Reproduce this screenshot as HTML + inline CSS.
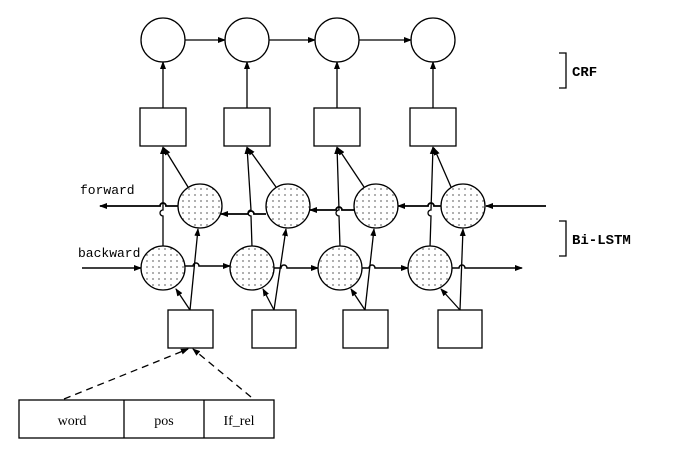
<!DOCTYPE html>
<html><head><meta charset="utf-8"><style>body{margin:0;background:#fff}svg{display:block}</style></head><body>
<svg width="693" height="461" viewBox="0 0 693 461" xmlns="http://www.w3.org/2000/svg">
<defs>
<pattern id="dots" width="6" height="6" patternUnits="userSpaceOnUse"><rect width="6" height="6" fill="#fff"/><circle cx="3" cy="3" r="0.9" fill="#777"/></pattern>
<marker id="a" markerWidth="8" markerHeight="8" refX="7" refY="4" orient="auto" markerUnits="userSpaceOnUse"><path d="M0,1 L8,4 L0,7 z" fill="#000"/></marker>
</defs>
<g stroke="#000" stroke-width="1.3" fill="none">
<circle cx="163" cy="40" r="22" fill="#fff"/>
<circle cx="247" cy="40" r="22" fill="#fff"/>
<circle cx="337" cy="40" r="22" fill="#fff"/>
<circle cx="433" cy="40" r="22" fill="#fff"/>
<line x1="185" y1="40" x2="225" y2="40" marker-end="url(#a)"/>
<line x1="269" y1="40" x2="315" y2="40" marker-end="url(#a)"/>
<line x1="359" y1="40" x2="411" y2="40" marker-end="url(#a)"/>
<line x1="163" y1="108" x2="163" y2="62" marker-end="url(#a)"/>
<line x1="247" y1="108" x2="247" y2="62" marker-end="url(#a)"/>
<line x1="337" y1="108" x2="337" y2="62" marker-end="url(#a)"/>
<line x1="433" y1="108" x2="433" y2="62" marker-end="url(#a)"/>
<rect x="140" y="108" width="46" height="38" fill="#fff"/>
<rect x="224" y="108" width="46" height="38" fill="#fff"/>
<rect x="314" y="108" width="46" height="38" fill="#fff"/>
<rect x="410" y="108" width="46" height="38" fill="#fff"/>
<path d="M163,247 V216 a3,3 0 0 1 0,-6 V147" marker-end="url(#a)"/>
<path d="M252,247 L251,216 a3,3 0 0 1 0,-6 L247,147" marker-end="url(#a)"/>
<path d="M340,247 L339,216 a3,3 0 0 1 0,-6 L337,147" marker-end="url(#a)"/>
<path d="M430,247 L431,216 a3,3 0 0 1 0,-6 L433,147" marker-end="url(#a)"/>
<line x1="188" y1="187" x2="164" y2="148" marker-end="url(#a)"/>
<line x1="276" y1="187" x2="248" y2="148" marker-end="url(#a)"/>
<line x1="364" y1="187" x2="338" y2="148" marker-end="url(#a)"/>
<line x1="451" y1="187" x2="434" y2="148" marker-end="url(#a)"/>
<g stroke-width="1.8">
<line x1="546" y1="206" x2="486" y2="206" marker-end="url(#a)"/>
<path d="M441,206 H434 a3,3 0 0 0 -6,0 H398" marker-end="url(#a)"/>
<path d="M354,210 H342 a3,3 0 0 0 -6,0 H310" marker-end="url(#a)"/>
<path d="M266,214 H254 a3,3 0 0 0 -6,0 H221" marker-end="url(#a)"/>
<path d="M178,206 H166 a3,3 0 0 0 -6,0 H100" marker-end="url(#a)"/>
</g>
<g stroke-width="1.5">
<line x1="82" y1="268" x2="141" y2="268" marker-end="url(#a)"/>
<path d="M185,266 H193 a3,3 0 0 1 6,0 H230" marker-end="url(#a)"/>
<path d="M274,268 H281 a3,3 0 0 1 6,0 H318" marker-end="url(#a)"/>
<path d="M362,268 H369 a3,3 0 0 1 6,0 H408" marker-end="url(#a)"/>
<path d="M452,268 H459 a3,3 0 0 1 6,0 H522" marker-end="url(#a)"/>
</g>
<circle cx="200" cy="206" r="22" fill="url(#dots)"/>
<circle cx="288" cy="206" r="22" fill="url(#dots)"/>
<circle cx="376" cy="206" r="22" fill="url(#dots)"/>
<circle cx="463" cy="206" r="22" fill="url(#dots)"/>
<circle cx="163" cy="268" r="22" fill="url(#dots)"/>
<circle cx="252" cy="268" r="22" fill="url(#dots)"/>
<circle cx="340" cy="268" r="22" fill="url(#dots)"/>
<circle cx="430" cy="268" r="22" fill="url(#dots)"/>
<line x1="190" y1="310" x2="198" y2="229" marker-end="url(#a)"/>
<line x1="190" y1="310" x2="176" y2="289" marker-end="url(#a)"/>
<line x1="274" y1="310" x2="286" y2="229" marker-end="url(#a)"/>
<line x1="274" y1="310" x2="263" y2="289" marker-end="url(#a)"/>
<line x1="365" y1="310" x2="374" y2="229" marker-end="url(#a)"/>
<line x1="365" y1="310" x2="351" y2="289" marker-end="url(#a)"/>
<line x1="460" y1="310" x2="463" y2="229" marker-end="url(#a)"/>
<line x1="460" y1="310" x2="441" y2="289" marker-end="url(#a)"/>
<rect x="168" y="310" width="45" height="38" fill="#fff"/>
<rect x="252" y="310" width="44" height="38" fill="#fff"/>
<rect x="343" y="310" width="45" height="38" fill="#fff"/>
<rect x="438" y="310" width="44" height="38" fill="#fff"/>
<line x1="64" y1="399" x2="188" y2="349" stroke-dasharray="7,5" marker-end="url(#a)"/>
<line x1="251" y1="397" x2="193" y2="349" stroke-dasharray="7,5" marker-end="url(#a)"/>
<rect x="19" y="400" width="255" height="38" fill="#fff"/>
<line x1="124" y1="400" x2="124" y2="438"/>
<line x1="204" y1="400" x2="204" y2="438"/>
<path d="M559,53 H566 V88 H559"/>
<path d="M559,221 H566 V256 H559"/>
</g>
<g font-family="Liberation Serif, serif" font-size="14" fill="#000">
<text x="72" y="425" text-anchor="middle">word</text>
<text x="164" y="425" text-anchor="middle">pos</text>
<text x="239" y="425" text-anchor="middle">If_rel</text>
</g>
<g font-family="Liberation Mono, monospace" font-size="13" fill="#000">
<text x="80" y="194">forward</text>
<text x="78" y="257">backward</text>
</g>
<g font-family="Liberation Mono, monospace" font-size="14" font-weight="bold" fill="#000">
<text x="572" y="76">CRF</text>
<text x="572" y="244">Bi-LSTM</text>
</g>
</svg>
</body></html>
